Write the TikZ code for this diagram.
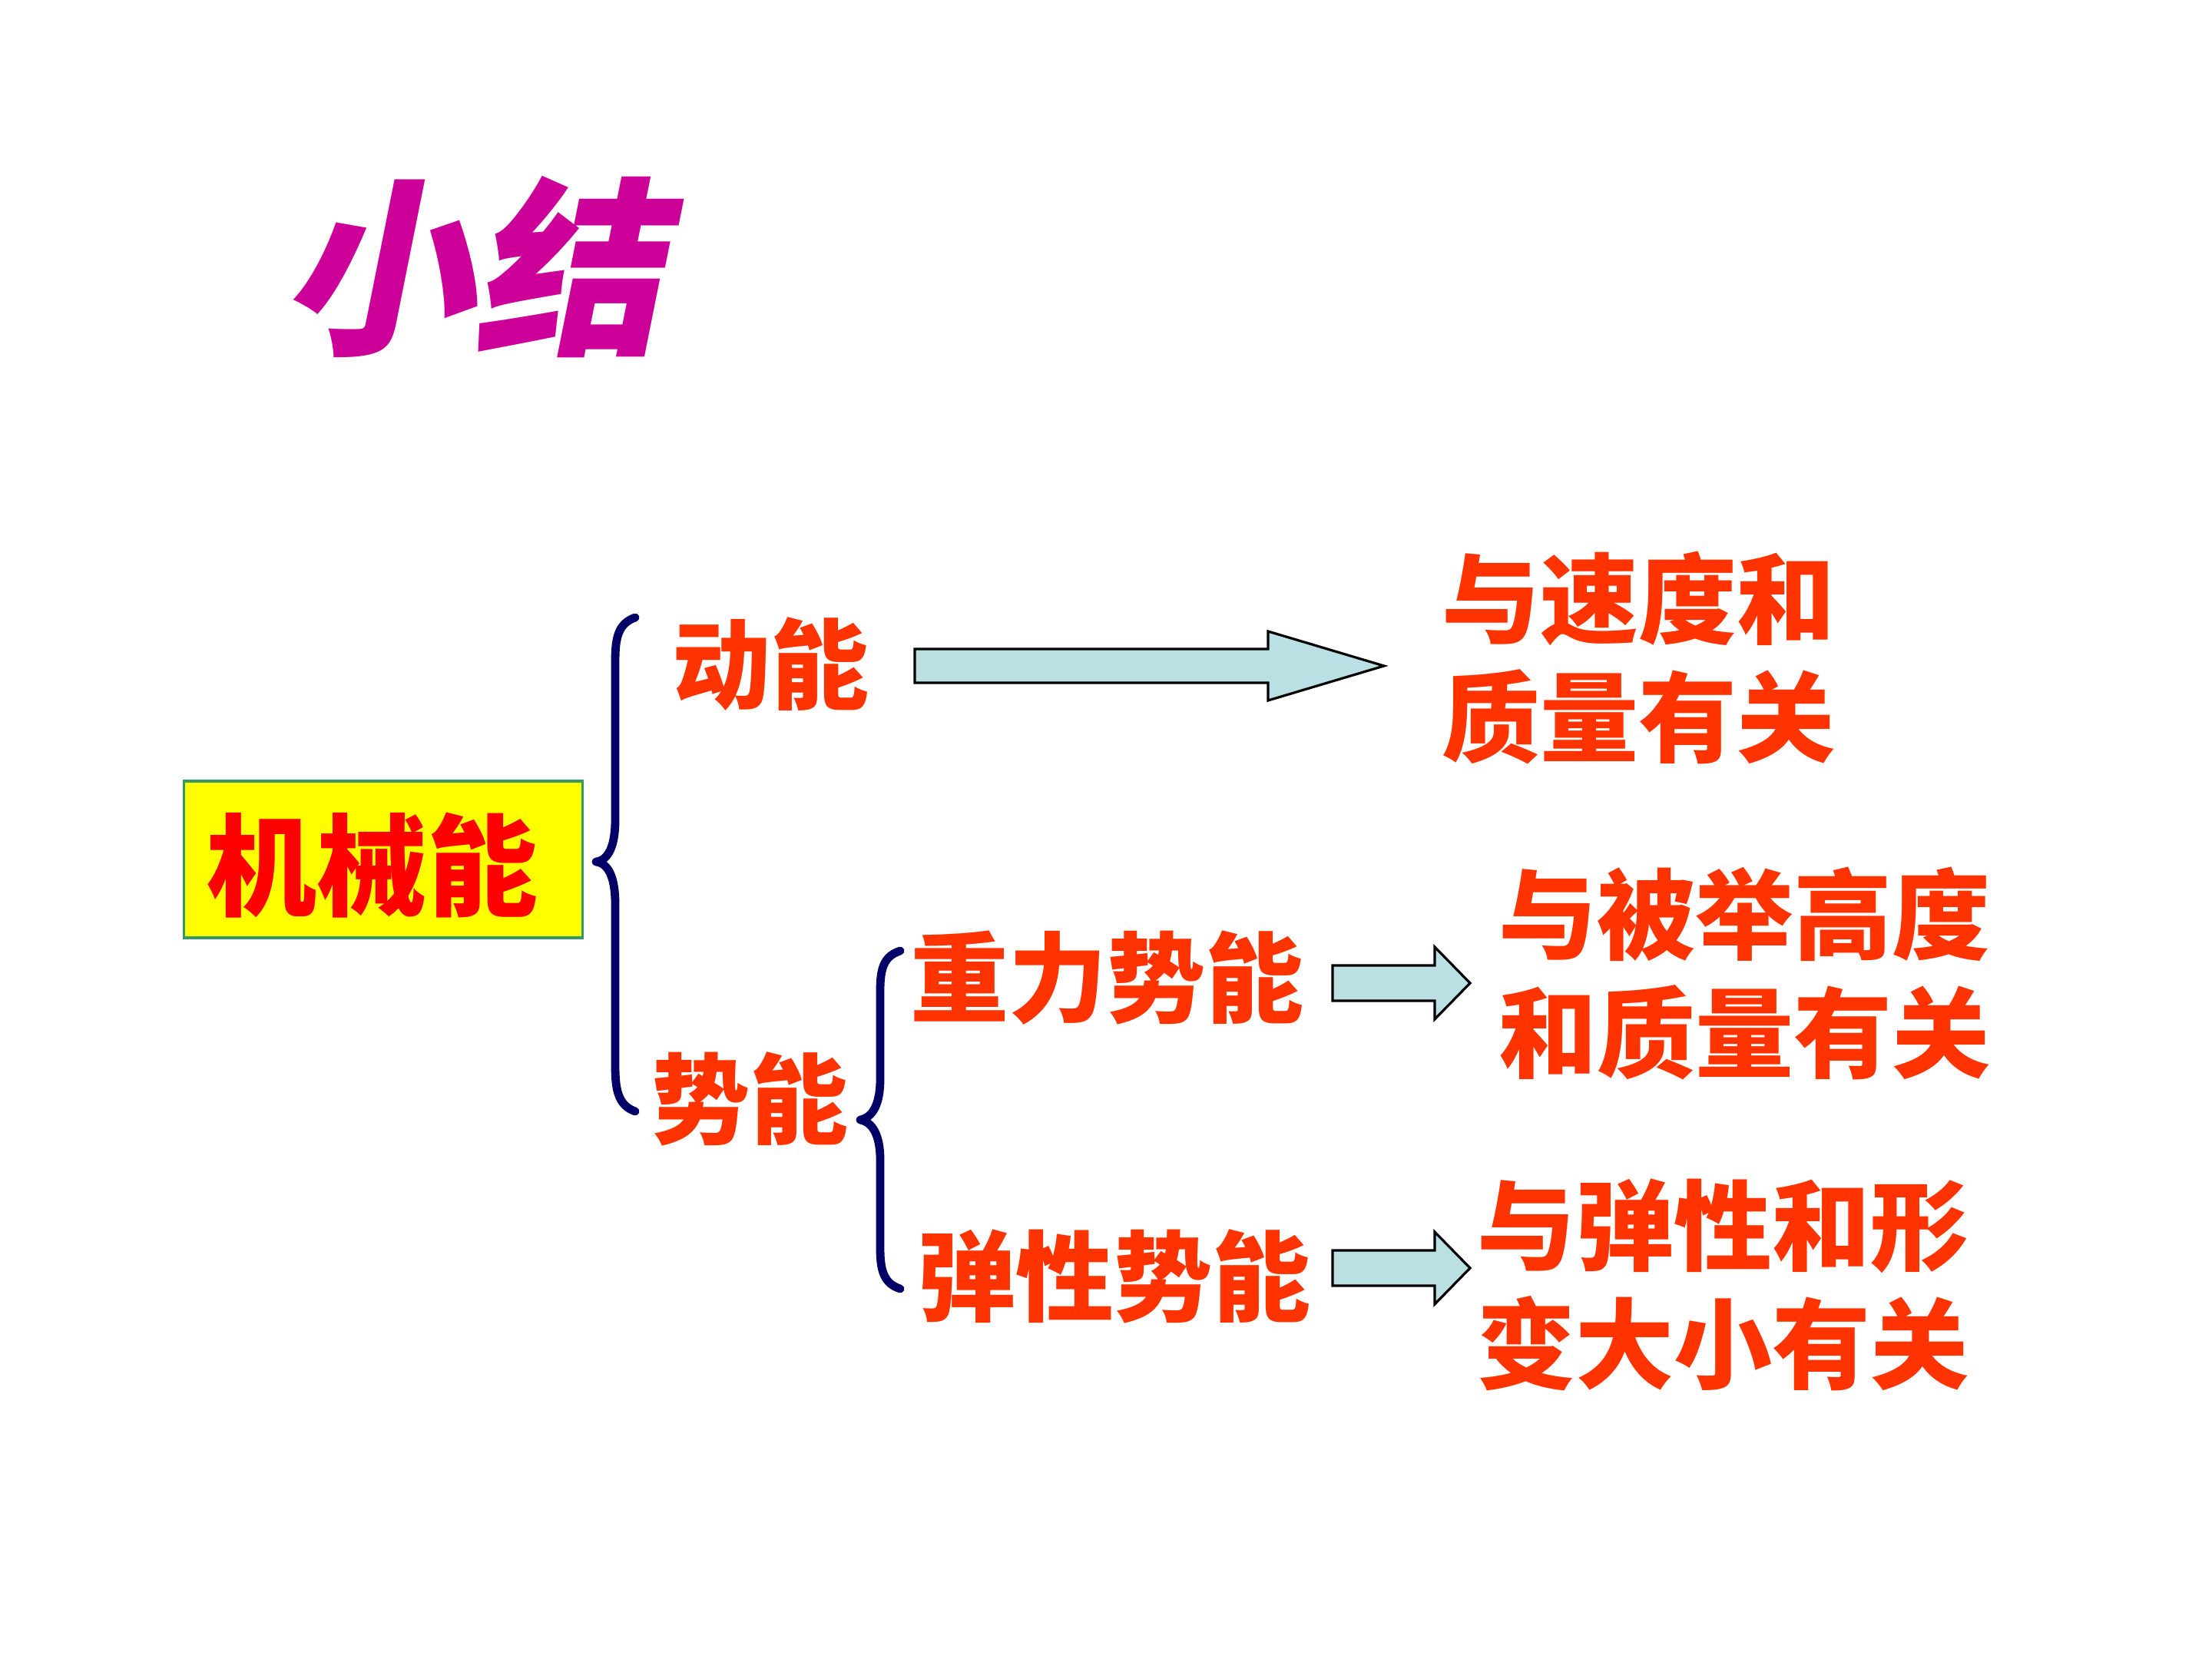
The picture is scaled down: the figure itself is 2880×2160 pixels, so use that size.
\documentclass[tikz,border=0pt]{standalone}
\usepackage{fontspec}
\newfontfamily\cjk{Noto Sans CJK SC}
\newfontfamily\cjkslant{Noto Sans CJK SC}[FakeSlant=0.2]
\definecolor{titlemag}{HTML}{CC0099}
\definecolor{txtorange}{HTML}{FF3300}
\definecolor{boxred}{HTML}{FF0000}
\definecolor{boxyellow}{HTML}{FFFF00}
\definecolor{boxgreen}{HTML}{339966}
\definecolor{bracenavy}{HTML}{000066}
\definecolor{arrowfill}{RGB}{186,224,227}
\tikzset{
  lbl/.style={inner sep=0pt, text=txtorange, font=\cjk\bfseries\fontsize{32}{38.5}\selectfont, align=center},
  bracepath/.style={draw=bracenavy, line width=2.7pt, line cap=round, line join=round},
  blockarrow/.style={draw=black, line width=0.8pt, fill=arrowfill, line join=miter},
}
\begin{document}
\begin{tikzpicture}[x=0.25pt, y=-0.25pt]
\useasboundingbox[fill=white] (0,0) rectangle (2880,2160);
% title
\node[inner sep=0pt, text=titlemag, font=\cjkslant\bfseries\fontsize{62}{70}\selectfont] (title) at (615,348) {小结};
% root box
\node[draw=boxgreen, line width=0.8pt, fill=boxyellow, minimum width=519*0.25pt, minimum height=204*0.25pt, inner sep=0pt] (root) at (499,1119) {};
\node[inner sep=0pt, text=boxred, font=\cjk\bfseries\fontsize{36}{40}\selectfont] (roottxt) at (484,1127) {机械能};
% level 1
\node[lbl] (kin) at (1003,865) {动能};
\node[lbl] (pot) at (976,1431) {势能};
% level 2
\node[lbl] (grav) at (1441,1273) {重力势能};
\node[lbl] (elas) at (1450,1662) {弹性势能};
% results
\node[lbl] (r1) at (2133,856) {与速度和\\质量有关};
\node[lbl] (r2) at (2271,1267) {与被举高度\\和质量有关};
\node[lbl] (r3) at (2243,1673) {与弹性和形\\变大小有关};
% big brace
\coordinate (b1t) at (827,804);
\coordinate (b1tip) at (776,1122);
\coordinate (b1b) at (827,1447);
\draw[bracepath] (b1t) .. controls (804,812) and (801,832) .. (801,862)
  -- (801,1067) .. controls (801,1102) and (792,1120) .. (b1tip)
  .. controls (792,1124) and (801,1142) .. (801,1177)
  -- (801,1387) .. controls (801,1417) and (804,1439) .. (b1b);
% small brace
\coordinate (b2t) at (1172,1238);
\coordinate (b2tip) at (1120,1458);
\coordinate (b2b) at (1172,1678);
\draw[bracepath] (b2t) .. controls (1151,1245) and (1146,1260) .. (1146,1290)
  -- (1146,1405) .. controls (1146,1438) and (1136,1455) .. (b2tip)
  .. controls (1136,1461) and (1146,1478) .. (1146,1510)
  -- (1146,1625) .. controls (1146,1655) and (1151,1671) .. (b2b);
% arrows
\coordinate (a1) at (1191,867);
\draw[blockarrow] (a1) ++(0,-22) -- ++(460,0) -- ++(0,-23) -- ++(151,45) -- ++(-151,45) -- ++(0,-23) -- ++(-460,0) -- cycle;
\coordinate (a2) at (1735,1280);
\draw[blockarrow] (a2) ++(0,-23) -- ++(133,0) -- ++(0,-24) -- ++(46,47) -- ++(-46,47) -- ++(0,-24) -- ++(-133,0) -- cycle;
\coordinate (a3) at (1735,1651);
\draw[blockarrow] (a3) ++(0,-23) -- ++(133,0) -- ++(0,-24) -- ++(46,47) -- ++(-46,47) -- ++(0,-24) -- ++(-133,0) -- cycle;
\end{tikzpicture}
\end{document}
